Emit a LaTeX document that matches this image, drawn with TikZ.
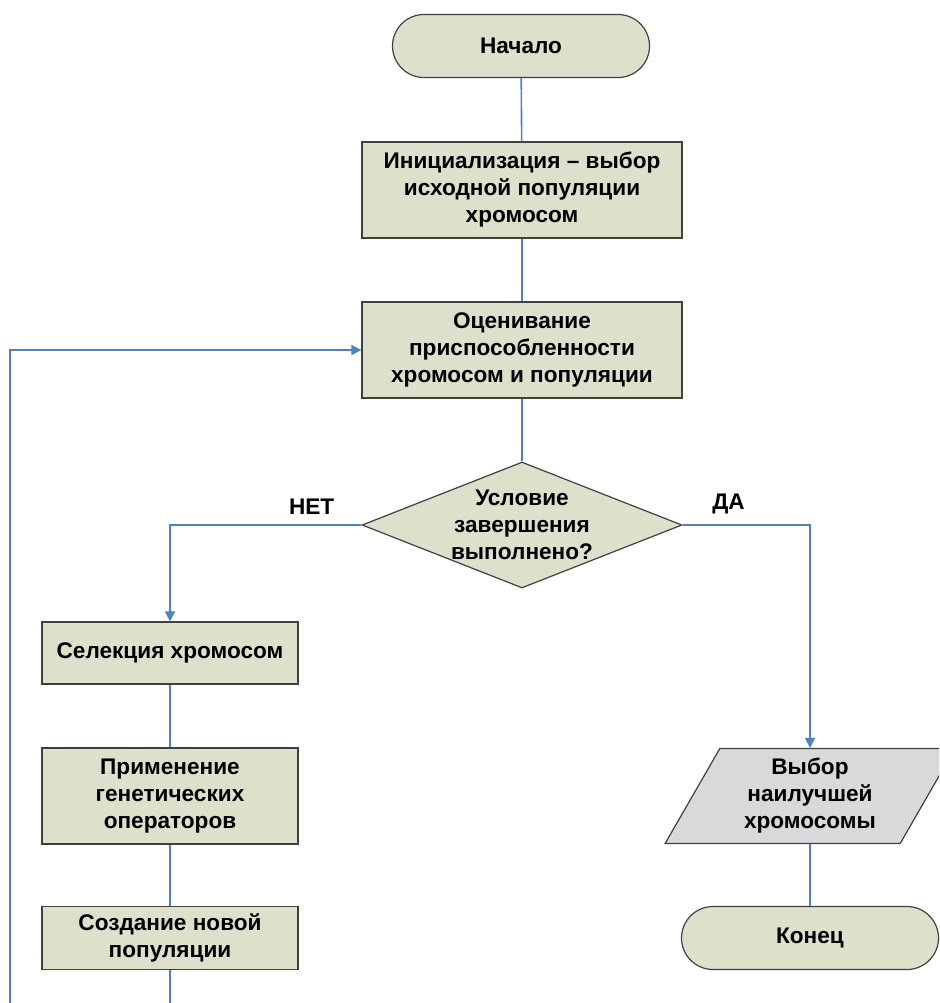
\documentclass[tikz,border=0pt]{standalone}
\usepackage{fontspec}
\setmainfont{Liberation Sans}
\usetikzlibrary{arrows.meta,shapes.geometric}
\definecolor{BoxClr}{RGB}{221,225,204}
\definecolor{IoClr}{RGB}{217,217,217}
\definecolor{FlowClr}{RGB}{79,129,189}
\definecolor{EdgeClr}{RGB}{64,64,64}

\begin{document}
\begin{tikzpicture}[x=0.5pt,y=-0.5pt,
  every node/.style={font=\fontsize{11.3}{13.5}\selectfont\bfseries,align=center,inner sep=0pt},
  base/.style={draw=EdgeClr,line width=0.6pt,fill=BoxClr},
  term/.style={base,rectangle,rounded corners=15.75pt,minimum width=128.5pt,minimum height=31.5pt},
  proc/.style={base,rectangle,minimum width=160pt,minimum height=48pt},
  sproc/.style={base,rectangle,minimum width=128pt,minimum height=31pt},
  decision/.style={base,diamond,minimum width=160pt,minimum height=63pt},
  io/.style={base,fill=IoClr,trapezium,trapezium left angle=62,trapezium right angle=118,
    trapezium stretches=true,minimum width=145pt,minimum height=47.5pt},
  flow/.style={draw=FlowClr,line width=0.8pt},
  flowarr/.style={flow,-{Triangle[length=5pt,width=5pt]}}]
\useasboundingbox (0,0) rectangle (939,1003);
\clip (0,0) rectangle (939,1003);

\node[term] (start) at (521,46) {Начало};
\node[proc] (init) at (522,190) {Инициализация – выбор\\исходной популяции\\хромосом};
\node[proc] (eval) at (522,350) {Оценивание\\приспособленности\\хромосом и популяции};
\node[decision] (cond) at (522,525) {};
\node (condtxt) at (cond) {Условие\\завершения\\выполнено?};
\node[sproc] (select) at (170,653) {Селекция хромосом};
\node[proc,minimum width=128pt] (oper) at (170,796) {Применение\\генетических\\операторов};
\node[sproc,minimum height=31.5pt] (create) at (170,938) {Создание новой\\популяции};
\node[io] (best) at (810,796) {Выбор\\наилучшей\\хромосомы};
\node[term] (stop) at (810,938) {Конец};
\coordinate (loop) at (10,1040);

\draw[flow] (start) -- (init);
\draw[flow] (init) -- (eval);
\draw[flow] (eval) -- (cond);
\draw[flowarr] (cond.west) -| (select.north) node[pos=0.13,above=5pt] {НЕТ};
\draw[flowarr] (cond.east) -| (best.north) node[pos=0.18,above=5pt] {ДА};
\draw[flow] (select) -- (oper);
\draw[flow] (oper) -- (create);
\draw[flow] (best) -- (stop);
\draw[flowarr] (create.south) |- (loop) |- (eval.west);

\end{tikzpicture}
\end{document}
